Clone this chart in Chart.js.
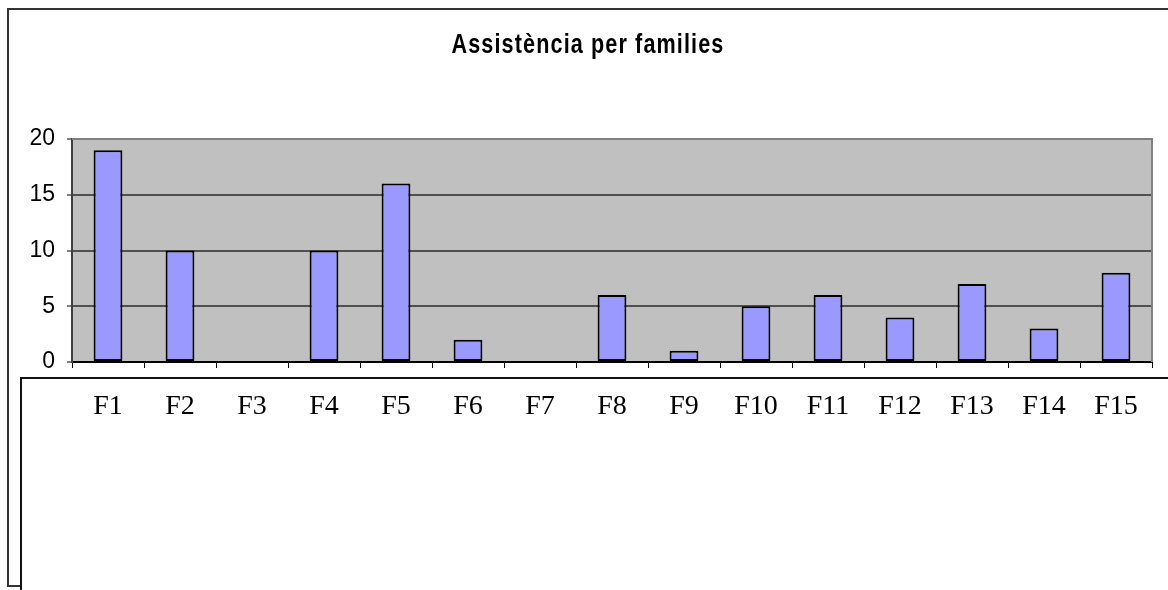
<!DOCTYPE html>
<html>
<head>
<meta charset="utf-8">
<script src="https://cdn.jsdelivr.net/npm/chart.js@4"></script>
<style>
  html, body { margin: 0; padding: 0; background: #ffffff; }
  #wrap { position: relative; width: 1168px; height: 590px; overflow: hidden; }
  canvas { position: absolute; left: 0; top: 0; }
  .rule { position: absolute; }
</style>
</head>
<body>
<div id="wrap">
  <canvas id="chart" width="1168" height="590"></canvas>
  <!-- outer frame of the chart object -->
  <div class="rule" style="left:7px; top:8px; width:1161px; height:2px; background:#333;"></div>
  <div class="rule" style="left:7px; top:8px; width:2px; height:579px; background:#333;"></div>
  <div class="rule" style="left:7px; top:585px; width:15px; height:2px; background:#333;"></div>
  <!-- box holding the category labels -->
  <div class="rule" style="left:20px; top:377px; width:1148px; height:2px; background:#111;"></div>
  <div class="rule" style="left:20px; top:377px; width:2px; height:213px; background:#111;"></div>
</div>
<script>
// Attendance per family
const families = ['F1','F2','F3','F4','F5','F6','F7','F8','F9','F10','F11','F12','F13','F14','F15'];
const attendance = [19, 10, 0, 10, 16, 2, 0, 6, 1, 5, 6, 4, 7, 3, 8];
const yTicks = [0, 5, 10, 15, 20];
const chartTitle = 'Assistència per families';

// grey plot background and the grey top/right edge of the plot area
const plotArea = {
  id: 'plotArea',
  beforeDraw(chart) {
    const { ctx, chartArea: a } = chart;
    ctx.save();
    ctx.fillStyle = '#c0c0c0';
    ctx.fillRect(a.left, a.top, a.right - a.left, a.bottom - a.top);
    ctx.restore();
  },
  afterDraw(chart) {
    const { ctx, chartArea: a } = chart;
    ctx.save();
    ctx.strokeStyle = '#808080';
    ctx.lineWidth = 2;
    ctx.beginPath();
    ctx.moveTo(a.left, a.top);
    ctx.lineTo(a.right, a.top);
    ctx.lineTo(a.right, a.bottom);
    ctx.stroke();
    ctx.restore();
  }
};

// condensed bold title
const condensedTitle = {
  id: 'condensedTitle',
  afterDraw(chart) {
    const { ctx } = chart;
    const cx = (chart.chartArea.left + chart.chartArea.right) / 2 - 24;
    ctx.save();
    ctx.fillStyle = '#000';
    ctx.font = 'bold 27px "Liberation Sans", Arial, sans-serif';
    ctx.textAlign = 'center';
    ctx.textBaseline = 'alphabetic';
    if ('letterSpacing' in ctx) ctx.letterSpacing = '1.4px';
    ctx.translate(cx, 53);
    ctx.scale(0.8, 1);
    ctx.fillText(chartTitle, 0, 0);
    ctx.restore();
  }
};

new Chart(document.getElementById('chart'), {
  type: 'bar',
  data: {
    labels: families,
    datasets: [{
      data: attendance,
      backgroundColor: '#9999ff',
      borderColor: '#000000',
      borderWidth: 2,
      borderSkipped: false,
      barPercentage: 0.4,
      categoryPercentage: 1.0
    }]
  },
  options: {
    responsive: false,
    animation: false,
    devicePixelRatio: 1,
    layout: { padding: { top: 139, right: 16, left: 0, bottom: 0 } },
    plugins: {
      legend: { display: false },
      title: { display: false },
      tooltip: { enabled: false }
    },
    scales: {
      x: {
        offset: true,
        afterFit(scale) { scale.height = 228; },
        grid: {
          offset: true,
          drawOnChartArea: false,
          drawTicks: true,
          tickLength: 6,
          color: '#000'
        },
        border: { display: true, color: '#000', width: 2 },
        ticks: {
          color: '#000',
          padding: 22,
          maxRotation: 0,
          autoSkip: false,
          font: { family: '"Liberation Serif", "Times New Roman", serif', size: 28 }
        }
      },
      y: {
        min: 0,
        max: 20,
        afterFit(scale) { scale.width = 72; },
        afterBuildTicks(scale) { scale.ticks = yTicks.map(v => ({ value: v })); },
        grid: {
          color(ctx) { return ctx.tick && ctx.tick.value === 20 ? 'rgba(0,0,0,0)' : '#505050'; },
          lineWidth: 2,
          drawTicks: true,
          tickLength: 5,
          tickColor: '#000',
          tickWidth: 1
        },
        border: { display: true, color: '#404040', width: 2 },
        ticks: {
          color: '#000',
          padding: 12,
          font: { family: '"Liberation Sans", Arial, sans-serif', size: 23 }
        }
      }
    }
  },
  plugins: [plotArea, condensedTitle]
});
</script>
</body>
</html>
